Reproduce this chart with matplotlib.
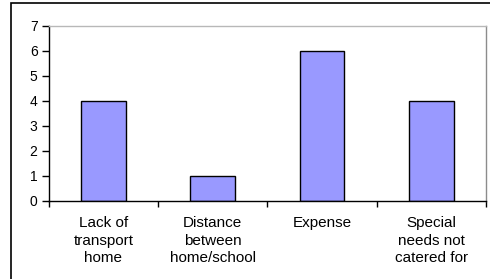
import matplotlib.pyplot as plt
import numpy as np
from matplotlib.patches import Rectangle

categories = ["Lack of\ntransport\nhome", "Distance\nbetween\nhome/school", "Expense",
              "Special\nneeds not\ncatered for"]
counts = [4, 1, 6, 4]

plt.rcParams['font.family'] = ['Liberation Sans', 'DejaVu Sans']

fig = plt.figure(figsize=(4.9, 2.79), dpi=100)
ax = fig.add_axes([48.7 / 490, 1 - 201 / 279, (486 - 48.7) / 490, (201 - 25.7) / 279])

x = np.arange(len(categories))
ax.bar(x, counts, width=0.41, color='#9999ff', edgecolor='black', linewidth=1)

ax.set_xlim(-0.5, len(categories) - 0.5)
ax.set_ylim(0, 7)
ax.set_yticks(range(0, 8))
ax.set_xticks(x)
ax.set_xticklabels(categories, linespacing=1.3)
ax.set_xticks(np.arange(-0.5, len(categories)), minor=True)
ax.tick_params(axis='x', which='major', length=0, pad=11, labelsize=11)
ax.tick_params(axis='x', which='minor', length=4, width=1, direction='out')
ax.tick_params(axis='y', length=5, width=1, pad=3, labelsize=10)

ax.spines['top'].set_color('#b8b8b8')
ax.spines['right'].set_color('#8c8c8c')
ax.spines['left'].set_color('black')
ax.spines['bottom'].set_color('black')
for s in ax.spines.values():
    s.set_linewidth(1)

frame = Rectangle((11 / 490, -0.1), 1.1, 1.1 - 3 / 279, transform=fig.transFigure,
                  fill=False, edgecolor='black', linewidth=1.2)
fig.patches.append(frame)

fig.savefig('out.png', dpi=100)
